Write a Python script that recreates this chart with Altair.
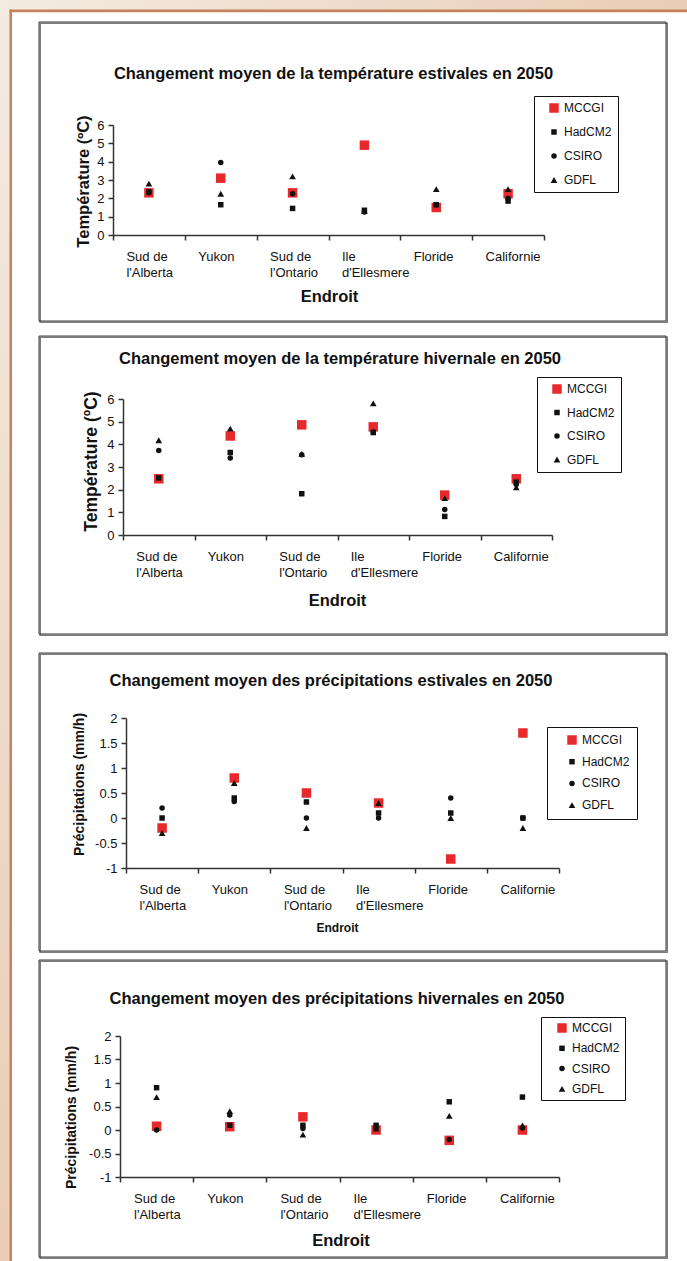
import altair as alt
import pandas as pd

FONT = "Liberation Sans"
INK = "#111111"
AXIS_INK = "#333333"

SITES = ["Sud de\nl'Alberta", "Yukon", "Sud de\nl'Ontario", "Ile\nd'Ellesmere", "Floride", "Californie"]
MODELS = ["MCCGI", "HadCM2", "CSIRO", "GDFL"]
MODEL_COLORS = ["#e8292b", "#111111", "#111111", "#111111"]
MODEL_SHAPES = ["square", "square", "circle", "triangle-up"]
MODEL_SIZES = [90, 30, 30, 45]

# Changement moyen de la température estivale en 2050 (ºC)
temp_ete_mccgi = [2.3, 3.1, 2.3, 4.9, 1.5, 2.25]
temp_ete_hadcm2 = [2.35, 1.65, 1.45, 1.35, 1.65, 1.85]
temp_ete_csiro = [2.3, 3.95, 2.25, 1.25, 1.65, 2.0]
temp_ete_gdfl = [2.8, 2.25, 3.2, 1.3, 2.5, 2.5]

# Changement moyen de la température hivernale en 2050 (ºC)
temp_hiver_mccgi = [2.48, 4.37, 4.86, 4.77, 1.76, 2.48]
temp_hiver_hadcm2 = [2.52, 3.64, 1.82, 4.52, 0.82, 2.33]
temp_hiver_csiro = [3.73, 3.4, 3.54, 4.55, 1.13, 2.23]
temp_hiver_gdfl = [4.18, 4.69, 3.58, 5.81, 1.63, 2.1]

# Changement moyen des précipitations estivales en 2050 (mm/h)
precip_ete_mccgi = [-0.2, 0.8, 0.5, 0.3, -0.82, 1.7]
precip_ete_hadcm2 = [0.0, 0.4, 0.32, 0.1, 0.1, 0.0]
precip_ete_csiro = [0.2, 0.33, 0.0, 0.0, 0.4, 0.0]
precip_ete_gdfl = [-0.3, 0.7, -0.2, 0.3, 0.0, -0.2]

# Changement moyen des précipitations hivernales en 2050 (mm/h)
precip_hiver_mccgi = [0.08, 0.07, 0.28, 0.0, -0.22, 0.0]
precip_hiver_hadcm2 = [0.9, 0.1, 0.1, 0.1, 0.6, 0.7]
precip_hiver_csiro = [0.0, 0.32, 0.03, 0.05, -0.2, 0.04]
precip_hiver_gdfl = [0.7, 0.4, -0.1, 0.03, 0.3, 0.1]

TEMP_TICKS = [0, 1, 2, 3, 4, 5, 6]
PRECIP_TICKS = [-1, -0.5, 0, 0.5, 1, 1.5, 2]

PAGE_W, PAGE_H = 687, 1261
BASE_X = 100  # left edge of the concat grid, in page pixels

# Page-pixel layout of each framed panel
GEOM = [
    dict(plot=(113, 125, 431, 110), box=(39, 22, 666, 321), title=(333.5, 79),
         legend=(534, 96), leg_pad=6, leg_row=12, leg_sym=8,
         xtitle=(329, 301.5, 16.5), ytitle=(83, 181, 16.5), page=True),
    dict(plot=(123, 399, 429, 136), box=(39, 336, 666, 634), title=(340, 364),
         legend=(537, 377), leg_pad=6, leg_row=11.5, leg_sym=8,
         xtitle=(337, 605, 16.5), ytitle=(91, 461, 17.5)),
    dict(plot=(126, 718, 433, 150), box=(39, 653, 666, 951), title=(331, 686),
         legend=(547, 727), leg_pad=7, leg_row=9.7, leg_sym=12,
         xtitle=(337, 931, 12), ytitle=(79.5, 784, 14)),
    dict(plot=(120, 1036, 439, 141), box=(39, 960, 666, 1257), title=(337, 1004),
         legend=(541, 1017), leg_pad=5, leg_row=8.3, leg_sym=10,
         xtitle=(340.5, 1245, 16.5), ytitle=(71, 1117, 14)),
]


def one_row():
    return alt.Data(values=[{}])


def panel_chart(series, title, ytitle, ydomain, yticks, g):
    L, T, W, H = g["plot"]

    def rx(px):
        return px - L

    def ry(py):
        return py - T

    rows = []
    for model, vals in zip(MODELS, series):
        for site, v in zip(SITES, vals):
            rows.append({"site": site, "modele": model, "valeur": v})
    df = pd.DataFrame(rows)

    layers = []
    if g.get("page"):
        backdrop = alt.LinearGradient(
            gradient="linear",
            stops=[
                alt.GradientStop(color="#f4ebe2", offset=0),
                alt.GradientStop(color="#e9cdb6", offset=0.5),
                alt.GradientStop(color="#e6c6ad", offset=1),
            ],
            x1=0, y1=0, x2=1, y2=1,
        )
        layers.append(
            alt.Chart(one_row()).mark_rect(color=backdrop).encode(
                x=alt.value(rx(0)), x2=alt.value(rx(PAGE_W)),
                y=alt.value(ry(0)), y2=alt.value(ry(PAGE_H)))
        )
        layers.append(
            alt.Chart(one_row()).mark_rect(color="#ffffff").encode(
                x=alt.value(rx(11)), x2=alt.value(rx(PAGE_W)),
                y=alt.value(ry(11.5)), y2=alt.value(ry(PAGE_H)))
        )
        for x1, y1, x2, y2 in [(9.5, 9.5, PAGE_W, 12.2), (9.5, 9.5, 12, PAGE_H)]:
            layers.append(
                alt.Chart(one_row()).mark_rect(color="#c6825a").encode(
                    x=alt.value(rx(x1)), x2=alt.value(rx(x2)),
                    y=alt.value(ry(y1)), y2=alt.value(ry(y2)))
            )

    bx1, by1, bx2, by2 = g["box"]
    layers.append(
        alt.Chart(one_row()).mark_rect(fillOpacity=0, stroke="#7d7d7d", strokeWidth=1.6).encode(
            x=alt.value(rx(bx1 + 1.2)), x2=alt.value(rx(bx2 + 1.2)),
            y=alt.value(ry(by1 + 1.2)), y2=alt.value(ry(by2 + 1.2)))
    )
    layers.append(
        alt.Chart(one_row()).mark_rect(fillOpacity=0, stroke="#3a3a3a", strokeWidth=1).encode(
            x=alt.value(rx(bx1)), x2=alt.value(rx(bx2)),
            y=alt.value(ry(by1)), y2=alt.value(ry(by2)))
    )

    tx, ty = g["title"]
    layers.append(
        alt.Chart(one_row()).mark_text(
            text=title, font=FONT, fontSize=16.5, fontWeight="bold", color=INK,
            align="center", baseline="alphabetic",
        ).encode(x=alt.value(rx(tx)), y=alt.value(ry(ty)))
    )

    lx, ly = g["legend"]
    legend = alt.Legend(
        title=None, orient="none", legendX=rx(lx), legendY=ry(ly),
        strokeColor=INK, fillColor="#ffffff", padding=g["leg_pad"],
        rowPadding=g["leg_row"], symbolOffset=g["leg_sym"], labelOffset=4,
        labelFont=FONT, labelFontSize=12, labelColor=INK, zindex=1,
    )

    xt_x, xt_y, xt_fs = g["xtitle"]
    xaxis = alt.Axis(
        title="Endroit", tickBand="extent", grid=False, zindex=1,
        labelExpr="split(datum.label, '\\n')", labelAngle=0, labelAlign="left",
        labelOffset=-23, labelBaseline="alphabetic", labelPadding=20,
        labelLineHeight=16, labelFont=FONT, labelFontSize=13, labelColor=INK,
        labelOverlap=False, labelFlush=False,
        tickSize=5, tickColor=AXIS_INK, tickWidth=1.5,
        domainColor=AXIS_INK, domainWidth=1.5,
        titleFont=FONT, titleFontSize=xt_fs, titleFontWeight="bold", titleColor=INK,
        titleX=rx(xt_x), titleY=xt_y - (T + H), titleAlign="center",
        titleBaseline="alphabetic", titleAnchor="start",
    )
    yt_x, yt_y, yt_fs = g["ytitle"]
    yaxis = alt.Axis(
        title=ytitle, values=yticks, grid=False, zindex=1,
        labelExpr="toString(datum.value)", labelFont=FONT, labelFontSize=13,
        labelColor=INK, labelPadding=4, labelOverlap=False, labelFlush=False,
        tickSize=5, tickColor=AXIS_INK, tickWidth=1.5,
        domainColor=AXIS_INK, domainWidth=1.5,
        titleFont=FONT, titleFontSize=yt_fs, titleFontWeight="bold", titleColor=INK,
        titleAngle=270, titleX=rx(yt_x), titleY=ry(yt_y), titleAlign="center",
        titleBaseline="middle", titleAnchor="start",
    )

    points = alt.Chart(df).mark_point(filled=True, opacity=1, strokeWidth=0).encode(
        x=alt.X("site:N", sort=SITES,
                scale=alt.Scale(domain=SITES, paddingInner=0, paddingOuter=0), axis=xaxis),
        y=alt.Y("valeur:Q", scale=alt.Scale(domain=ydomain, nice=False, zero=False), axis=yaxis),
        color=alt.Color("modele:N", scale=alt.Scale(domain=MODELS, range=MODEL_COLORS), legend=legend),
        shape=alt.Shape("modele:N", scale=alt.Scale(domain=MODELS, range=MODEL_SHAPES), legend=legend),
        size=alt.Size("modele:N",
                      scale=alt.Scale(type="ordinal", domain=MODELS, range=MODEL_SIZES),
                      legend=legend),
    )
    layers.append(points)

    return alt.layer(*layers).properties(width=W, height=H)


def spacer(w, h):
    return alt.Chart(one_row()).mark_point(opacity=0).properties(width=w, height=h)


INDEP = dict(x="independent", y="independent", color="independent",
             shape="independent", size="independent")
INDEP_LEG = dict(color="independent", shape="independent", size="independent")


def row(chart, g):
    return (
        alt.hconcat(spacer(g["plot"][0] - BASE_X, 1), chart, spacing=0, bounds="flush")
        .resolve_scale(**INDEP)
        .resolve_axis(x="independent", y="independent")
        .resolve_legend(**INDEP_LEG)
    )


p1 = panel_chart(
    [temp_ete_mccgi, temp_ete_hadcm2, temp_ete_csiro, temp_ete_gdfl],
    "Changement moyen de la température estivales en 2050",
    "Température (ºC)", [0, 6], TEMP_TICKS, GEOM[0])
p2 = panel_chart(
    [temp_hiver_mccgi, temp_hiver_hadcm2, temp_hiver_csiro, temp_hiver_gdfl],
    "Changement moyen de la température hivernale en 2050",
    "Température (ºC)", [0, 6], TEMP_TICKS, GEOM[1])
p3 = panel_chart(
    [precip_ete_mccgi, precip_ete_hadcm2, precip_ete_csiro, precip_ete_gdfl],
    "Changement moyen des précipitations estivales en 2050",
    "Précipitations (mm/h)", [-1, 2], PRECIP_TICKS, GEOM[2])
p4 = panel_chart(
    [precip_hiver_mccgi, precip_hiver_hadcm2, precip_hiver_csiro, precip_hiver_gdfl],
    "Changement moyen des précipitations hivernales en 2050",
    "Précipitations (mm/h)", [-1, 2], PRECIP_TICKS, GEOM[3])


def step(upper, lower):
    # nested flush rows occupy no height in the outer grid, so the spacer
    # carries the whole top-to-top distance between consecutive plots
    return lower["plot"][1] - upper["plot"][1]


chart = (
    alt.vconcat(
        row(p1, GEOM[0]),
        spacer(1, step(GEOM[0], GEOM[1])),
        row(p2, GEOM[1]),
        spacer(1, step(GEOM[1], GEOM[2])),
        row(p3, GEOM[2]),
        spacer(1, step(GEOM[2], GEOM[3])),
        row(p4, GEOM[3]),
        spacing=0,
        bounds="flush",
    )
    .resolve_scale(**INDEP)
    .resolve_axis(x="independent", y="independent")
    .resolve_legend(**INDEP_LEG)
    .properties(padding=0, background="#ffffff")
    .configure_view(strokeWidth=0)
)

chart.save("out.html", embed_options={"renderer": "svg", "actions": False})
